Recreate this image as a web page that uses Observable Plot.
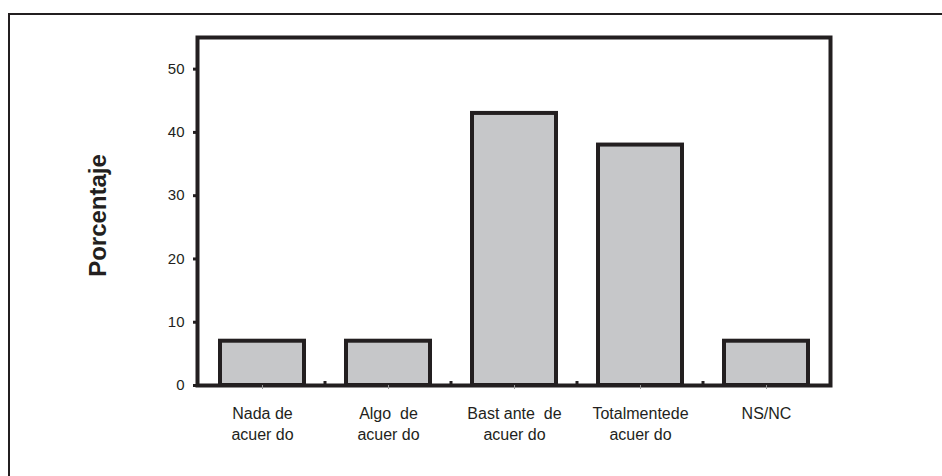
<!DOCTYPE html>
<html>
<head>
<meta charset="utf-8">
<script src="https://cdn.jsdelivr.net/npm/d3@7"></script>
<script src="https://cdn.jsdelivr.net/npm/@observablehq/plot@0.6"></script>
<style>
  html, body { margin: 0; padding: 0; background: #fff; }
  #wrap { position: relative; width: 942px; height: 476px; overflow: hidden; }
  #border { position: absolute; left: 8px; top: 13px; right: -10px; bottom: -10px;
            border-top: 2px solid #231f20; border-left: 2px solid #231f20; }
  #chart { position: absolute; left: 0; top: 0; }
  #chart svg text { white-space: pre; }
</style>
</head>
<body>
<div id="wrap"><div id="border"></div><div id="chart"></div></div>
<script>
const categories = ["Nada de acuerdo", "Algo de acuerdo", "Bastante de acuerdo", "Totalmente de acuerdo", "NS/NC"];
const values = [7, 7, 43, 38, 7];
const tickLabels = ["Nada de\nacuer do", "Algo  de\nacuer do", "Bast ante  de\nacuer do", "Totalmentede\nacuer do", "NS/NC"];
const yTicks = [0, 10, 20, 30, 40, 50];
const yLabel = "Porcentaje";

const data = categories.map((c, i) => ({cat: c, value: values[i]}));
const labelOf = new Map(categories.map((c, i) => [c, tickLabels[i]]));

// small black marks at band boundaries (between bars), positioned via the x scale
const boundaryMarks = (index, scales) => {
  const x = scales.x;
  const step = x(categories[1]) - x(categories[0]);
  const bw = x.bandwidth ? x.bandwidth() : 0;
  const g = d3.create("svg:g");
  const yb = scales.y(0);
  for (let i = 0; i < categories.length - 1; i++) {
    const cx = x(categories[i]) + bw / 2 + step / 2;
    g.append("line").attr("x1", cx).attr("x2", cx).attr("y1", yb).attr("y2", yb - 4)
      .attr("stroke", "#231f20").attr("stroke-width", 3);
  }
  return g.node();
};

const chart = Plot.plot({
  width: 942,
  height: 476,
  marginLeft: 197,
  marginRight: 112,
  marginTop: 37,
  marginBottom: 91,
  style: {fontFamily: "'Liberation Sans', Arial, sans-serif", color: "#231f20", background: "transparent"},
  x: {domain: categories, paddingInner: 0.335, paddingOuter: 0.1675, align: 0.5},
  y: {domain: [0, 55]},
  marks: [
    Plot.barY(data, {x: "cat", y: "value", fill: "#c6c7c9", stroke: "#231f20", strokeWidth: 4}),
    boundaryMarks,
    Plot.frame({stroke: "#231f20", strokeWidth: 4}),
    Plot.axisY({ticks: yTicks, tickSize: 4, tickPadding: 9, strokeWidth: 3, stroke: "#231f20",
                fontSize: 15, label: null, tickFormat: d => String(d)}),
    Plot.axisX({tickSize: 4, stroke: "#9a9a9a", strokeWidth: 1, tickFormat: () => "", label: null}),
    Plot.axisX({tickSize: 0, tickPadding: 18, fontSize: 16, lineHeight: 1.33, label: null,
                tickFormat: d => labelOf.get(d)}),
    Plot.text([yLabel], {frameAnchor: "left", text: d => d, rotate: -90, dx: -99, dy: 4,
                         fontSize: 24, fontWeight: "bold", textAnchor: "middle", lineAnchor: "middle", fill: "#231f20"})
  ]
});
document.getElementById("chart").appendChild(chart);
</script>
</body>
</html>
